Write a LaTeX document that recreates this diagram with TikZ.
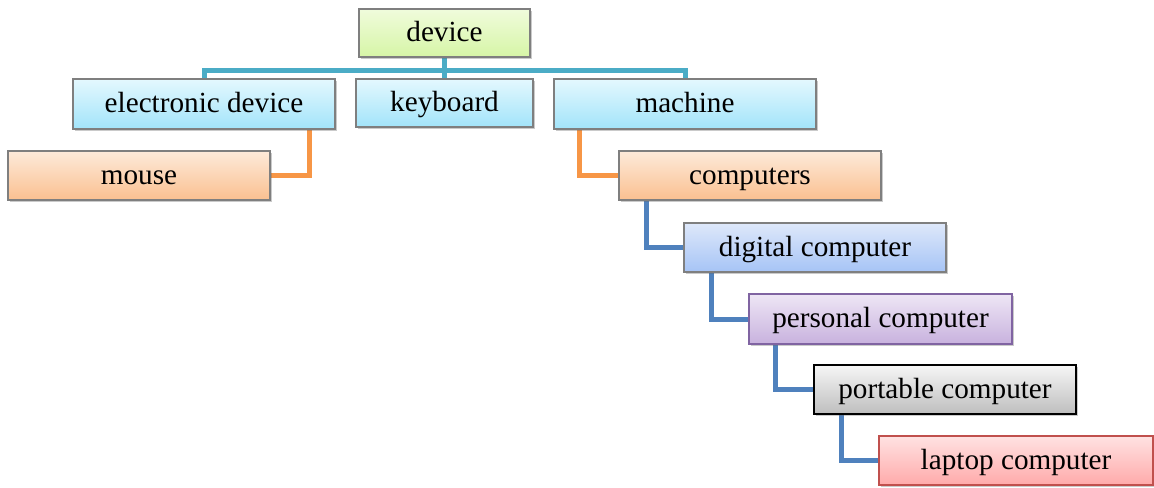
\documentclass[tikz,border=0pt]{standalone}
\usepackage{fontspec}
\setmainfont{Liberation Serif}
\usetikzlibrary{shadows,calc}
\pgfdeclarelayer{background}
\pgfsetlayers{background,main}
\definecolor{tealline}{HTML}{4BACC6}
\definecolor{orangeline}{HTML}{F79646}
\definecolor{blueline}{HTML}{4F81BD}
\definecolor{bordergray}{HTML}{7F7F7F}
\tikzset{
  box/.style={draw=bordergray, line width=0.6pt, inner sep=0pt, shading=axis,
    font=\fontsize{14.6}{17}\selectfont, text height=1.1em, text depth=0.23em,
    drop shadow={shadow xshift=0.8pt, shadow yshift=-1.2pt, opacity=0.35, fill=black!60}},
  greenbox/.style={box, top color={rgb,255:red,240;green,252;blue,220}, bottom color={rgb,255:red,214;green,245;blue,166}},
  cyanbox/.style={box, top color={rgb,255:red,228;green,248;blue,254}, bottom color={rgb,255:red,162;green,228;blue,250}},
  orangebox/.style={box, top color={rgb,255:red,253;green,234;blue,218}, bottom color={rgb,255:red,250;green,192;blue,144}},
  bluebox/.style={box, top color={rgb,255:red,222;green,232;blue,250}, bottom color={rgb,255:red,166;green,196;blue,246}},
  purplebox/.style={box, draw={rgb,255:red,128;green,100;blue,162}, top color={rgb,255:red,238;green,230;blue,245}, bottom color={rgb,255:red,200;green,178;blue,222}},
  graybox/.style={box, draw=black, top color={rgb,255:red,246;green,246;blue,246}, bottom color={rgb,255:red,190;green,190;blue,190}},
  redbox/.style={box, draw={rgb,255:red,192;green,80;blue,77}, top color={rgb,255:red,255;green,226;blue,226}, bottom color={rgb,255:red,255;green,170;blue,170}},
  conn/.style={line width=2.5pt},
}
\begin{document}
\begin{tikzpicture}[x=0.5pt,y=-0.5pt]
\useasboundingbox (0,0) rectangle (1154,487);
% nodes
\node[greenbox, minimum width=85.5pt, minimum height=24pt] (device) at (444.5,33) {device};
\node[cyanbox, minimum width=131pt, minimum height=25pt] (elec) at (204,104) {electronic device};
\node[cyanbox, minimum width=88.5pt, minimum height=24pt] (keyb) at (444.5,103) {keyboard};
\node[cyanbox, minimum width=131pt, minimum height=25pt] (mach) at (685,104) {machine};
\node[orangebox, minimum width=131pt, minimum height=24.5pt] (mouse) at (139,175.5) {mouse};
\node[orangebox, minimum width=131pt, minimum height=24.5pt] (comp) at (750,175.5) {computers};
\node[bluebox, minimum width=131pt, minimum height=24.5pt] (digi) at (815,247.5) {digital computer};
\node[purplebox, minimum width=131.5pt, minimum height=25pt] (pers) at (880.5,319) {personal computer};
\node[graybox, minimum width=131pt, minimum height=24.5pt] (port) at (945,389.5) {portable computer};
\node[redbox, minimum width=137pt, minimum height=24.5pt] (lapt) at (1016,460.5) {laptop computer};
\coordinate (bus) at (0,70);
% connectors (behind boxes)
\begin{pgfonlayer}{background}
\draw[conn, tealline] (device.south) -- (device.south |- bus);
\draw[conn, tealline] (elec.north) -- (elec.north |- bus) -- (mach.north |- bus) -- (mach.north);
\draw[conn, tealline] (keyb.north) -- (keyb.north |- bus);
\draw[conn, orangeline] ([xshift=-13pt]elec.south east) |- (mouse.east);
\draw[conn, orangeline] ([xshift=13pt]mach.south west) |- (comp.west);
\draw[conn, blueline] ([xshift=14pt]comp.south west) |- (digi.west);
\draw[conn, blueline] ([xshift=14pt]digi.south west) |- (pers.west);
\draw[conn, blueline] ([xshift=13.5pt]pers.south west) |- (port.west);
\draw[conn, blueline] ([xshift=14pt]port.south west) |- (lapt.west);
\end{pgfonlayer}
\end{tikzpicture}
\end{document}
